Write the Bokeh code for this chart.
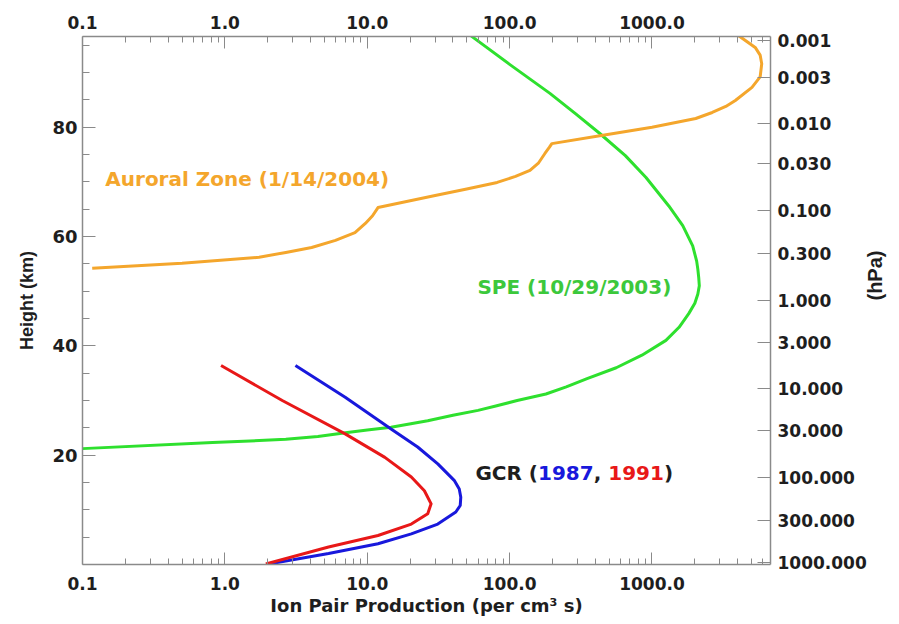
import math
from bokeh.plotting import figure
from bokeh.models import (Range1d, LinearAxis, LogAxis, FixedTicker, CustomJSTickFormatter, Label)
from bokeh.embed import file_html
from bokeh.resources import INLINE

# ---------------- data ----------------
aur_x = [0.117, 0.5, 1.74, 2.68, 4.07, 5.98, 8.2, 9.7, 10.9, 11.9, 30, 50, 81.8, 110, 139, 160, 177, 190, 198,
         441, 1000, 2030, 2650, 3300, 3850, 5040, 5750, 5900, 5750, 5310, 4040]
aur_h = [54.2, 55.1, 56.2, 57.1, 58.0, 59.3, 60.7, 62.4, 63.8, 65.3, 67.5, 68.7, 69.9, 71.0, 72.1, 73.5, 75.2, 76.3, 77.0,
         78.5, 80.0, 81.6, 82.7, 83.8, 84.9, 87.3, 89.2, 91.6, 93.2, 94.6, 96.8]

spe_x = [0.1, 0.82, 1.5, 2.68, 4.5, 7.03, 10, 14.7, 26.6, 40, 60, 80, 113, 180, 250, 350, 561, 850, 1253, 1550, 1812,
         2000, 2100, 2150, 2130, 2100, 2060, 1932, 1645, 1313, 908, 650, 428, 290, 192, 100, 53]
spe_h = [21.2, 22.3, 22.6, 22.9, 23.4, 24.1, 24.6, 25.1, 26.3, 27.3, 28.2, 29.0, 30.0, 31.2, 32.5, 34.0, 36.0, 38.3, 41.0, 43.4, 45.9,
         47.8, 49.5, 51.0, 52.5, 54.0, 55.5, 58.3, 62.0, 65.6, 70.8, 74.8, 78.9, 82.5, 86.2, 91.5, 96.8]

gcr87_x = [3.13, 7.0, 14.7, 22.6, 31.3, 40.8, 44.3, 45.4, 45.0, 41.9, 31.3, 20.4, 11.9, 5.35, 2.04]
gcr87_h = [36.4, 30.6, 24.8, 21.5, 18.4, 15.4, 13.8, 12.3, 10.8, 9.6, 7.4, 5.6, 3.8, 2.0, 0.1]

gcr91_x = [0.94, 2.53, 7.0, 13.3, 20.4, 25.2, 28.1, 26.6, 20.4, 11.9, 5.35, 1.94]
gcr91_h = [36.4, 30.0, 23.9, 19.6, 16.0, 13.5, 11.1, 9.3, 7.4, 5.3, 3.2, 0.1]

x_ticks = [0.1, 1, 10, 100, 1000]
x_tick_labels = ["0.1", "1.0", "10.0", "100.0", "1000.0"]
h_ticks = [20, 40, 60, 80]
h_minor = [5, 10, 15, 25, 30, 35, 45, 50, 55, 65, 70, 75, 85, 90, 95]
p_heights = [95.9, 89.1, 80.7, 73.4, 64.8, 56.9, 48.3, 40.6, 32.2, 24.5, 15.9, 8.0, 0.4]
p_labels = ["0.001", "0.003", "0.010", "0.030", "0.100", "0.300", "1.000", "3.000",
            "10.000", "30.000", "100.000", "300.000", "1000.000"]

# ---------------- styles ----------------
ORANGE = "#F4A62C"
GREEN = "#2EE02E"
GREEN_TXT = "#3CC83C"
BLUE = "#1818DC"
RED = "#E81818"
AXIS_COL = "#8a8a8a"
TXT = "#1e1e1e"
FONT = "DejaVu Sans"
VFONT = "Liberation Sans"

x_minor = []
for d in [0.1, 1, 10, 100, 1000]:
    for k in range(2, 10):
        x_minor.append(d * k)

p = figure(width=899, height=624, x_axis_type="log",
           x_range=Range1d(0.1, 6800), y_range=Range1d(0, 96.6),
           output_backend="svg", toolbar_location=None)
p.min_border_left = 82
p.min_border_right = 124
p.min_border_top = 36
p.min_border_bottom = 60
p.outline_line_color = None
p.xgrid.visible = False
p.ygrid.visible = False
p.background_fill_color = "white"
p.border_fill_color = "white"

p.extra_y_ranges = {"press": Range1d(0, 96.6)}

xfmt_code = """
const i = tv.findIndex(t => Math.abs(Math.log10(t) - Math.log10(tick)) < 1e-6);
return i >= 0 ? tl[i] : '';
"""
yfmt_code = """
const i = tv.findIndex(t => Math.abs(t - tick) < 1e-6);
return i >= 0 ? tl[i] : '';
"""


def style_axis(ax, tick_in=12, minor_in=6):
    ax.axis_line_color = AXIS_COL
    ax.axis_line_width = 1.5
    ax.major_tick_line_color = AXIS_COL
    ax.minor_tick_line_color = AXIS_COL
    ax.major_tick_in = tick_in
    ax.major_tick_out = 0
    ax.minor_tick_in = minor_in
    ax.minor_tick_out = 0
    ax.major_label_text_font = FONT
    ax.major_label_text_font_style = "bold"
    ax.major_label_text_font_size = "17px"
    ax.major_label_text_color = TXT


# bottom x axis
bx = p.xaxis[0]
bx.ticker = FixedTicker(ticks=x_ticks, minor_ticks=x_minor)
bx.formatter = CustomJSTickFormatter(args=dict(tv=x_ticks, tl=x_tick_labels), code=xfmt_code)
style_axis(bx)
bx.major_label_standoff = 12
bx.axis_label = "Ion Pair Production (per cm\u00b3 s)"
bx.axis_label_text_font = FONT
bx.axis_label_text_font_style = "bold"
bx.axis_label_text_font_size = "18px"
bx.axis_label_text_color = TXT
bx.axis_label_standoff = 2

# top x axis
tx = LogAxis(ticker=FixedTicker(ticks=x_ticks, minor_ticks=x_minor),
             formatter=CustomJSTickFormatter(args=dict(tv=x_ticks, tl=x_tick_labels), code=xfmt_code))
style_axis(tx)
tx.major_label_standoff = 8
p.add_layout(tx, "above")

# left y axis
ly = p.yaxis[0]
ly.ticker = FixedTicker(ticks=h_ticks, minor_ticks=h_minor)
style_axis(ly, tick_in=13, minor_in=7)
ly.major_label_text_font_size = "18px"
ly.major_label_standoff = 5
ly.axis_label = "Height (km)"
ly.axis_label_text_font = VFONT
ly.axis_label_text_font_style = "bold"
ly.axis_label_text_font_size = "18px"
ly.axis_label_text_color = TXT
ly.axis_label_standoff = 12

# right pressure axis
ry = LinearAxis(y_range_name="press",
                ticker=FixedTicker(ticks=p_heights, minor_ticks=[]),
                formatter=CustomJSTickFormatter(args=dict(tv=p_heights, tl=p_labels), code=yfmt_code))
style_axis(ry, tick_in=13, minor_in=0)
ry.major_label_standoff = 7
ry.axis_label = "(hPa)"
ry.axis_label_text_font = VFONT
ry.axis_label_text_font_style = "bold"
ry.axis_label_text_font_size = "20px"
ry.axis_label_text_color = TXT
ry.axis_label_standoff = 5
ry.axis_label_orientation = math.pi / 2
p.add_layout(ry, "right")

# curves
p.line(spe_x, spe_h, line_color=GREEN, line_width=3, line_join="round")
p.line(aur_x, aur_h, line_color=ORANGE, line_width=3, line_join="round")
p.line(gcr87_x, gcr87_h, line_color=BLUE, line_width=3, line_join="round")
p.line(gcr91_x, gcr91_h, line_color=RED, line_width=3, line_join="round")

# text labels
def lab(x, y, text, color, xoff=0):
    p.add_layout(Label(x=x, y=y, text=text, text_color=color, text_font=FONT,
                       text_font_style="bold", text_font_size="20px",
                       text_baseline="middle", text_align="left", x_offset=xoff))

lab(0.1446, 70.6, "Auroral Zone (1/14/2004)", ORANGE)
lab(59.4, 50.7, "SPE (10/29/2003)", GREEN_TXT)
lab(57.5, 16.8, "GCR (", TXT, 0)
lab(57.5, 16.8, "1987", BLUE, 62.6)
lab(57.5, 16.8, ", ", TXT, 118.3)
lab(57.5, 16.8, "1991", RED, 132.9)
lab(57.5, 16.8, ")", TXT, 188.6)

open("out.html", "w").write(file_html(p, INLINE))
